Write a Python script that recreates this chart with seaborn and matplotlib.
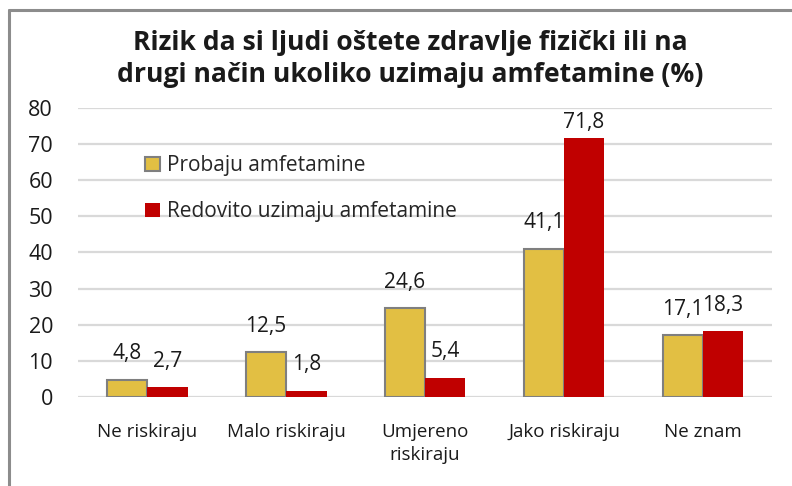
import matplotlib
matplotlib.use("Agg")
import matplotlib.pyplot as plt
from matplotlib.lines import Line2D
import seaborn as sns
import pandas as pd

categories = ["Ne riskiraju", "Malo riskiraju", "Umjereno\nriskiraju", "Jako riskiraju", "Ne znam"]
series_names = ["Probaju amfetamine", "Redovito uzimaju amfetamine"]
probaju = [4.8, 12.5, 24.6, 41.1, 17.1]
redovito = [2.7, 1.8, 5.4, 71.8, 18.3]
title_lines = ["Rizik da si ljudi oštete zdravlje fizički ili na",
               "drugi način ukoliko uzimaju amfetamine (%)"]

colors = ["#E2BF43", "#C00000"]
edges = ["#7F7F7F", "none"]
YMAX = 80

sns.set_theme(style="white")
plt.rcParams["font.family"] = ["Open Sans", "DejaVu Sans"]

df = pd.DataFrame({
    "kategorija": categories * 2,
    "serija": [series_names[0]] * len(categories) + [series_names[1]] * len(categories),
    "vrijednost": probaju + redovito,
})

fig = plt.figure(figsize=(7.92, 4.86), dpi=100)
ax = fig.add_axes([0.0985, 0.183, 0.8765, 0.595])

sns.barplot(data=df, x="kategorija", y="vrijednost", hue="serija",
            palette=colors, width=0.58, saturation=1, ax=ax, legend=True)

ax.set_ylim(0, YMAX)
ax.set_xlim(-0.5, len(categories) - 0.5)
axes_h_pt = ax.get_position().height * fig.get_figheight() * 72

# value labels above the bars, pulled down near the top of the plot area
for cont, ec, vals in zip(ax.containers, edges, [probaju, redovito]):
    for bar, v in zip(cont, vals):
        bar.set_edgecolor(ec)
        bar.set_linewidth(1.5 if ec != "none" else 0)
        headroom = (YMAX - v) / YMAX * axes_h_pt
        pad = min(11, headroom - 18)
        ax.annotate(f"{v:.1f}".replace(".", ","),
                    xy=(bar.get_x() + bar.get_width() / 2, v),
                    xytext=(0, pad), textcoords="offset points",
                    ha="center", va="bottom", fontsize=15, color="#1a1a1a")

ax.set_yticks(range(0, YMAX + 1, 10))
ax.yaxis.grid(True, color="#D9D9D9", linewidth=1.6)
ax.set_axisbelow(True)
for s in ax.spines.values():
    s.set_visible(False)
ax.tick_params(axis="y", length=0, pad=18, labelsize=15.5, labelcolor="#1a1a1a")
ax.tick_params(axis="x", length=0, pad=19, labelsize=13.5, labelcolor="#1a1a1a")
for t in ax.get_xticklabels():
    t.set_linespacing(1.3)
ax.set_xlabel("")
ax.set_ylabel("")

leg = ax.legend(loc="upper left", bbox_to_anchor=(0.085, 0.865), frameon=False,
                fontsize=15, handlelength=0.7, handleheight=0.7,
                handletextpad=0.35, labelspacing=1.2, borderaxespad=0)
for h, ec in zip(leg.legend_handles, edges):
    h.set_edgecolor(ec)
    h.set_linewidth(1.5 if ec != "none" else 0)

for line, yb in zip(title_lines, [0.897, 0.831]):
    fig.text(0.518, yb, line, ha="center", va="baseline", fontsize=19.1,
             fontweight="bold", color="#1a1a1a")

# outer chart frame (left and top edges)
fig.add_artist(Line2D([0.0115, 0.0115], [0, 0.979], color="#8C8C8C", linewidth=2.2,
                      transform=fig.transFigure))
fig.add_artist(Line2D([0.0115, 1.0], [0.979, 0.979], color="#8C8C8C", linewidth=2.2,
                      transform=fig.transFigure))

fig.savefig("out.png", dpi=100)
